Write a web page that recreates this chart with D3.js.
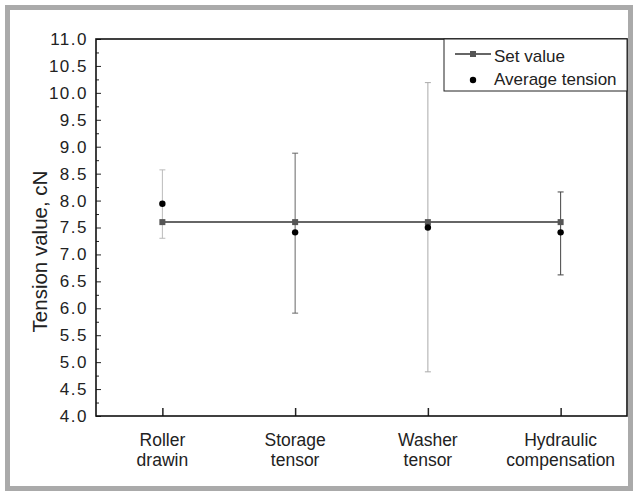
<!DOCTYPE html>
<html>
<head>
<meta charset="utf-8">
<script src="https://cdn.jsdelivr.net/npm/d3@7"></script>
<style>
  body { margin: 0; background: #fff; }
  text { font-family: "Liberation Sans", Arial, sans-serif; fill: #222; }
</style>
</head>
<body>
<div id="chart"></div>
<script>
// Data
const categories = ['Roller\ndrawin', 'Storage\ntensor', 'Washer\ntensor', 'Hydraulic\ncompensation'];
const setValues = [7.6, 7.6, 7.6, 7.6];
const avgTension = [7.94, 7.41, 7.50, 7.41];
const errLow = [7.30, 5.91, 4.82, 6.62];
const errHigh = [8.57, 8.88, 10.19, 8.16];
const errColors = ['#bbb', '#666', '#aaa', '#444'];
const yTicks = d3.range(4, 11.01, 0.5);

const W = 638, H = 495;
const margin = { top: 39, right: 11, bottom: 79, left: 96 };
const width = W - margin.left - margin.right;
const height = H - margin.top - margin.bottom;

const svg = d3.select('#chart').append('svg')
    .attr('width', W)
    .attr('height', H);

// Outer grey frame
svg.append('rect')
    .attr('x', 7.5).attr('y', 7.5)
    .attr('width', W - 15).attr('height', H - 14)
    .attr('fill', 'none')
    .attr('stroke', '#aaa')
    .attr('stroke-width', 5);

const g = svg.append('g')
    .attr('transform', `translate(${margin.left}, ${margin.top})`);

const xScale = d3.scalePoint()
    .domain(categories)
    .range([0, width])
    .padding(0.5);

const yScale = d3.scaleLinear()
    .domain([4, 11])
    .range([height, 0]);

// Y axis: inward ticks, major every 0.5 and minor every 0.25
g.append('g')
    .call(d3.axisLeft(yScale).tickValues(d3.range(4.25, 11, 0.5)).tickSize(-3).tickFormat(''))
    .call(a => a.select('.domain').remove())
    .selectAll('line').attr('stroke', '#222');
const yAxis = g.append('g')
    .call(d3.axisLeft(yScale).tickValues(yTicks).tickSize(-5).tickPadding(8).tickFormat(d3.format('.1f')));
yAxis.select('.domain').remove();
yAxis.selectAll('line').attr('stroke', '#222');
yAxis.selectAll('text')
    .attr('font-size', 17)
    .attr('letter-spacing', 1.5)
    .attr('fill', '#222');

// X axis ticks pointing up
const xAxis = g.append('g')
    .attr('transform', `translate(0, ${height})`)
    .call(d3.axisBottom(xScale).tickSize(-8).tickFormat(''));
xAxis.select('.domain').remove();
xAxis.selectAll('line').attr('stroke', '#222').attr('stroke-width', 1.5);

// Two line category labels
categories.forEach(c => {
    const lines = c.split('\n');
    const t = g.append('text')
        .attr('text-anchor', 'middle')
        .attr('font-size', 17.5)
        .attr('transform', `translate(${xScale(c)}, ${height + 30})`);
    lines.forEach((l, i) => {
        t.append('tspan').attr('x', 0).attr('dy', i === 0 ? 0 : 20).text(l);
    });
});

// Plot box
g.append('rect')
    .attr('width', width).attr('height', height)
    .attr('fill', 'none')
    .attr('stroke', '#111')
    .attr('stroke-width', 1.6);

// Axis title
g.append('text')
    .text('Tension value, cN')
    .attr('font-size', 20.5)
    .attr('text-anchor', 'middle')
    .attr('transform', `translate(-49, ${height / 2 + 24}) rotate(-90)`);

// Error bars
const idx = d3.range(categories.length);
g.selectAll('.err')
    .data(idx)
    .join('line')
    .attr('x1', i => xScale(categories[i])).attr('x2', i => xScale(categories[i]))
    .attr('y1', i => yScale(errLow[i])).attr('y2', i => yScale(errHigh[i]))
    .attr('stroke', i => errColors[i])
    .attr('stroke-width', 1);
[errLow, errHigh].forEach(arr => {
    g.selectAll(null)
        .data(idx)
        .join('line')
        .attr('x1', i => xScale(categories[i]) - 3).attr('x2', i => xScale(categories[i]) + 3)
        .attr('y1', i => yScale(arr[i])).attr('y2', i => yScale(arr[i]))
        .attr('stroke', i => errColors[i])
        .attr('stroke-width', 1);
});

// Set value line with square markers
const line = d3.line()
    .x((d, i) => xScale(categories[i]))
    .y(d => yScale(d));
g.append('path')
    .datum(setValues)
    .attr('d', line)
    .attr('fill', 'none')
    .attr('stroke', '#666')
    .attr('stroke-width', 2);
g.selectAll('.sq')
    .data(setValues)
    .join('rect')
    .attr('x', (d, i) => xScale(categories[i]) - 3)
    .attr('y', d => yScale(d) - 3)
    .attr('width', 6).attr('height', 6)
    .attr('fill', '#555');

// Average tension dots
g.selectAll('.dot')
    .data(avgTension)
    .join('circle')
    .attr('cx', (d, i) => xScale(categories[i]))
    .attr('cy', d => yScale(d))
    .attr('r', 3.2)
    .attr('fill', '#000');

// Legend
const lg = g.append('g').attr('transform', `translate(${width - 183}, 0)`);
lg.append('rect')
    .attr('width', 183).attr('height', 52)
    .attr('fill', '#fff')
    .attr('stroke', '#222')
    .attr('stroke-width', 1);
lg.append('line')
    .attr('x1', 11).attr('x2', 47).attr('y1', 15).attr('y2', 15)
    .attr('stroke', '#666').attr('stroke-width', 2);
lg.append('rect')
    .attr('x', 26).attr('y', 12).attr('width', 6).attr('height', 6)
    .attr('fill', '#555');
lg.append('circle')
    .attr('cx', 29).attr('cy', 41).attr('r', 3.2)
    .attr('fill', '#000');
lg.append('text').text('Set value')
    .attr('x', 50).attr('y', 23).attr('font-size', 17);
lg.append('text').text('Average tension')
    .attr('x', 50).attr('y', 46).attr('font-size', 17);
</script>
</body>
</html>
